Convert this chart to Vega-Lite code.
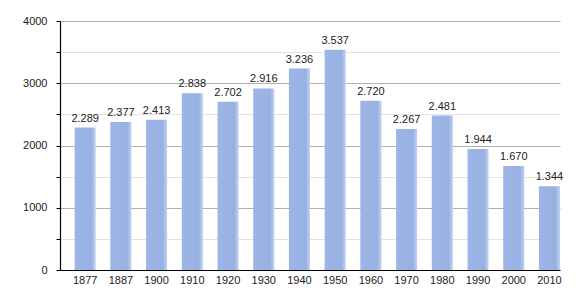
{
  "$schema": "https://vega.github.io/schema/vega-lite/v6.json",
  "width": 500,
  "height": 249,
  "autosize": "none",
  "padding": {"left": 60, "top": 21, "right": 20, "bottom": 30},
  "background": "white",
  "config": {
    "locale": {"number": {"decimal": ",", "thousands": ".", "grouping": [3], "currency": ["", " €"]}},
    "view": {"stroke": null},
    "font": "Liberation Sans"
  },
  "data": {
    "values": [
      {"year": "1877", "pop": 2289},
      {"year": "1887", "pop": 2377},
      {"year": "1900", "pop": 2413},
      {"year": "1910", "pop": 2838},
      {"year": "1920", "pop": 2702},
      {"year": "1930", "pop": 2916},
      {"year": "1940", "pop": 3236},
      {"year": "1950", "pop": 3537},
      {"year": "1960", "pop": 2720},
      {"year": "1970", "pop": 2267},
      {"year": "1980", "pop": 2481},
      {"year": "1990", "pop": 1944},
      {"year": "2000", "pop": 1670},
      {"year": "2010", "pop": 1344}
    ]
  },
  "encoding": {
    "x": {
      "field": "year", "type": "ordinal", "sort": null,
      "scale": {"paddingInner": 0.41, "paddingOuter": 0.205, "align": 1},
      "axis": {
        "title": null, "labelAngle": 0, "ticks": false, "labelPadding": 4,
        "labelFont": "Liberation Sans", "labelFontSize": 11, "labelColor": "#222",
        "domainColor": "#000", "domainWidth": 1.2, "grid": false
      }
    },
    "y": {
      "field": "pop", "type": "quantitative",
      "scale": {"domain": [0, 4000], "nice": false},
      "axis": {
        "title": null,
        "values": [0, 500, 1000, 1500, 2000, 2500, 3000, 3500, 4000],
        "labelExpr": "datum.value % 1000 === 0 ? format(datum.value, 'd') : ''",
        "labelFont": "Liberation Sans", "labelFontSize": 11, "labelColor": "#222",
        "labelPadding": 9, "tickSize": 4, "tickColor": "#000",
        "domainColor": "#000", "domainWidth": 1.2,
        "grid": true,
        "gridColor": {"condition": {"test": "datum.value % 1000 === 0", "value": "#b0b0b0"}, "value": "#e2e2e2"},
        "gridWidth": 1
      }
    }
  },
  "layer": [
    {
      "mark": {
        "type": "bar",
        "color": {
          "gradient": "linear", "x1": 0, "x2": 1, "y1": 0, "y2": 0,
          "stops": [
            {"offset": 0, "color": "#9db5e6"},
            {"offset": 0.8, "color": "#98b1e3"},
            {"offset": 1, "color": "#c3d2f1"}
          ]
        }
      }
    },
    {
      "mark": {"type": "text", "baseline": "bottom", "dy": -4, "fontSize": 11, "color": "#222", "font": "Liberation Sans"},
      "encoding": {"text": {"field": "pop", "type": "quantitative", "format": ",d"}}
    }
  ]
}
